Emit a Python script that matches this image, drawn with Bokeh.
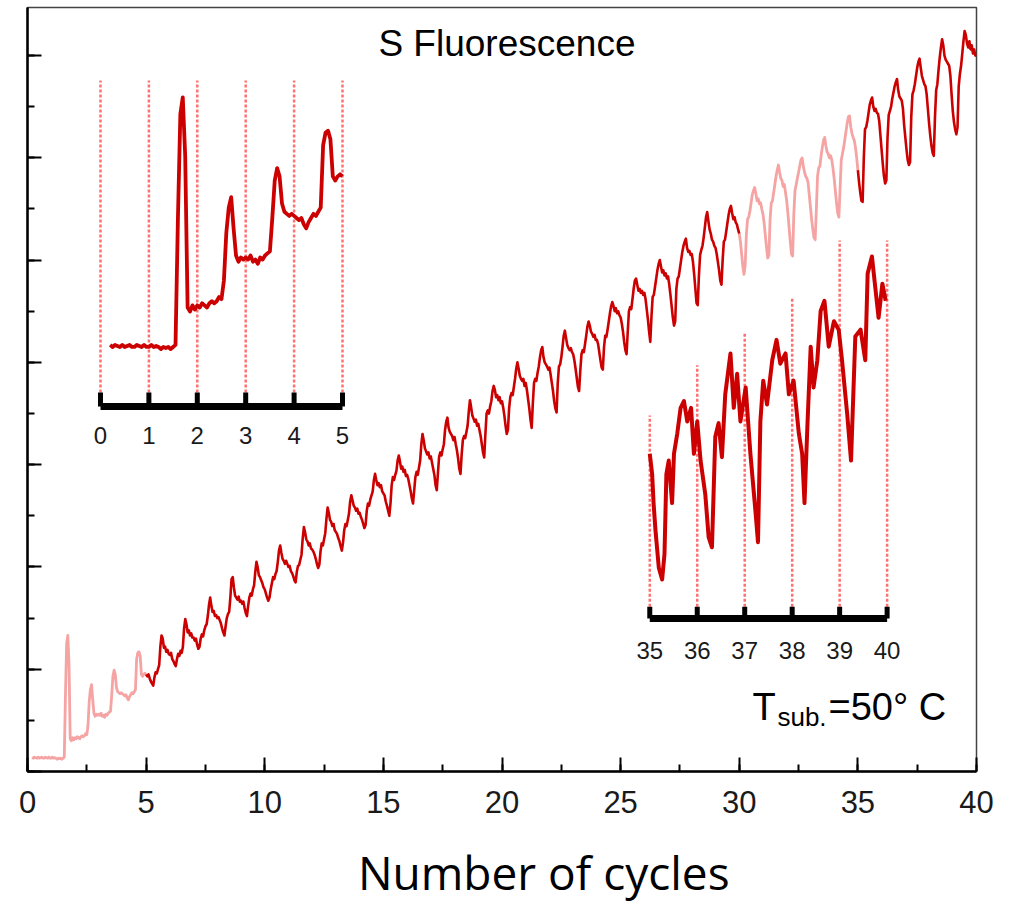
import numpy as np
from bokeh.plotting import figure
from bokeh.layouts import column
from bokeh.models import Range1d, SingleIntervalTicker, Label, CustomJSTickFormatter
from bokeh.embed import file_html
from bokeh.resources import INLINE
from bokeh.core.properties import value

# ---------------- data ----------------
# S fluorescence signal (arb. units, 1 unit = one major y tick), sampled every 0.05 cycle.
# Row k holds cycle k (row 0 starts at 0.20 cycles).
signal_rows = [
    [0.14, 0.13, 0.14, 0.135, 0.13, 0.14, 0.13, 0.135, 0.14, 0.13, 0.13, 0.14, 0.135, 0.13, 0.14, 0.13],
    [0.13, 0.14, 0.13, 0.135, 0.13, 0.12, 0.13, 0.125, 0.13, 0.12, 0.13, 0.14, 0.75, 1.25, 1.33, 1.05, 0.32, 0.30, 0.33, 0.31],
    [0.33, 0.32, 0.34, 0.33, 0.32, 0.34, 0.35, 0.34, 0.35, 0.37, 0.36, 0.45, 0.68, 0.80, 0.85, 0.70, 0.57, 0.54, 0.56, 0.55],
    [0.56, 0.55, 0.57, 0.54, 0.55, 0.53, 0.56, 0.55, 0.57, 0.58, 0.59, 0.75, 0.93, 0.99, 0.95, 0.82, 0.78, 0.77, 0.76, 0.77],
    [0.76, 0.75, 0.74, 0.75, 0.72, 0.70, 0.73, 0.75, 0.77, 0.76, 0.78, 0.80, 1.10, 1.16, 1.17, 1.13, 0.95, 0.93, 0.95, 0.96],
    [0.95, 0.93, 0.95, 0.91, 0.88, 0.86, 0.84, 0.92, 0.97, 0.96, 1.00, 1.04, 1.22, 1.33, 1.30, 1.21, 1.22, 1.17, 1.19, 1.15],
    [1.14, 1.16, 1.10, 1.08, 1.05, 1.03, 1.10, 1.15, 1.13, 1.18, 1.16, 1.22, 1.40, 1.49, 1.44, 1.36, 1.38, 1.33, 1.35, 1.31],
    [1.31, 1.28, 1.30, 1.24, 1.20, 1.22, 1.30, 1.34, 1.32, 1.38, 1.42, 1.44, 1.52, 1.63, 1.70, 1.62, 1.56, 1.57, 1.52, 1.53],
    [1.50, 1.51, 1.48, 1.45, 1.40, 1.36, 1.33, 1.42, 1.50, 1.54, 1.56, 1.70, 1.88, 1.90, 1.80, 1.72, 1.70, 1.68, 1.71, 1.66],
    [1.67, 1.64, 1.66, 1.60, 1.55, 1.52, 1.62, 1.70, 1.74, 1.72, 1.78, 1.82, 1.95, 2.05, 2.00, 1.92, 1.90, 1.87, 1.84, 1.80],
    [1.78, 1.74, 1.70, 1.67, 1.70, 1.78, 1.84, 1.90, 1.88, 1.93, 1.96, 2.05, 2.16, 2.21, 2.14, 2.08, 2.06, 2.03, 2.06, 2.03],
    [2.00, 2.01, 1.96, 1.94, 1.91, 1.87, 1.85, 1.95, 2.01, 2.02, 2.07, 2.12, 2.28, 2.39, 2.34, 2.27, 2.25, 2.21, 2.23, 2.18],
    [2.17, 2.15, 2.12, 2.08, 2.03, 1.99, 2.02, 2.15, 2.23, 2.21, 2.27, 2.33, 2.47, 2.58, 2.53, 2.46, 2.44, 2.40, 2.42, 2.36],
    [2.34, 2.32, 2.28, 2.25, 2.20, 2.16, 2.24, 2.36, 2.42, 2.40, 2.46, 2.52, 2.64, 2.70, 2.65, 2.60, 2.58, 2.55, 2.57, 2.52],
    [2.53, 2.49, 2.46, 2.42, 2.38, 2.41, 2.55, 2.62, 2.60, 2.66, 2.70, 2.74, 2.85, 2.91, 2.85, 2.80, 2.82, 2.78, 2.80, 2.74],
    [2.72, 2.70, 2.64, 2.60, 2.55, 2.50, 2.62, 2.80, 2.88, 2.85, 2.90, 2.94, 3.04, 3.09, 3.03, 2.96, 2.98, 2.93, 2.95, 2.89],
    [2.90, 2.86, 2.80, 2.74, 2.67, 2.62, 2.75, 2.88, 2.93, 2.90, 2.97, 3.04, 3.20, 3.30, 3.24, 3.16, 3.13, 3.10, 3.12, 3.06],
    [3.08, 3.02, 2.96, 2.90, 2.80, 2.75, 2.92, 3.08, 3.12, 3.09, 3.15, 3.20, 3.34, 3.42, 3.46, 3.36, 3.32, 3.30, 3.28, 3.24],
    [3.27, 3.20, 3.14, 3.06, 2.96, 2.91, 3.10, 3.24, 3.28, 3.26, 3.32, 3.38, 3.52, 3.63, 3.56, 3.48, 3.45, 3.42, 3.44, 3.38],
    [3.40, 3.34, 3.28, 3.20, 3.12, 3.07, 3.30, 3.50, 3.53, 3.50, 3.57, 3.62, 3.72, 3.77, 3.73, 3.66, 3.68, 3.63, 3.66, 3.60],
    [3.62, 3.56, 3.48, 3.38, 3.30, 3.34, 3.55, 3.66, 3.70, 3.68, 3.76, 3.84, 3.94, 4.00, 3.94, 3.87, 3.84, 3.82, 3.84, 3.77],
    [3.80, 3.73, 3.64, 3.55, 3.44, 3.36, 3.60, 3.80, 3.84, 3.82, 3.90, 3.96, 4.05, 4.12, 4.15, 4.05, 4.00, 3.98, 3.96, 3.93],
    [3.95, 3.88, 3.80, 3.72, 3.62, 3.55, 3.51, 3.80, 3.96, 3.98, 4.05, 4.15, 4.26, 4.31, 4.24, 4.17, 4.14, 4.12, 4.14, 4.10],
    [4.08, 4.02, 3.94, 3.85, 3.76, 3.72, 3.92, 4.08, 4.12, 4.10, 4.18, 4.26, 4.35, 4.40, 4.36, 4.30, 4.28, 4.25, 4.27, 4.22],
    [4.22, 4.18, 4.10, 4.02, 3.95, 3.93, 4.15, 4.26, 4.25, 4.32, 4.40, 4.48, 4.55, 4.59, 4.55, 4.50, 4.53, 4.48, 4.50, 4.46],
    [4.44, 4.38, 4.30, 4.20, 4.12, 4.08, 4.30, 4.50, 4.54, 4.52, 4.62, 4.72, 4.80, 4.82, 4.76, 4.70, 4.72, 4.68, 4.70, 4.66],
    [4.68, 4.62, 4.52, 4.42, 4.30, 4.20, 4.45, 4.64, 4.66, 4.74, 4.82, 4.90, 4.96, 5.00, 4.94, 4.88, 4.90, 4.85, 4.87, 4.82],
    [4.84, 4.76, 4.66, 4.55, 4.44, 4.36, 4.40, 4.72, 4.82, 4.84, 4.92, 5.00, 5.08, 5.14, 5.18, 5.21, 5.12, 5.08, 5.09, 5.05],
    [5.06, 4.98, 4.86, 4.72, 4.58, 4.56, 4.85, 5.05, 5.10, 5.14, 5.22, 5.32, 5.42, 5.47, 5.38, 5.30, 5.26, 5.20, 5.18, 5.14],
    [5.12, 5.06, 4.98, 4.90, 4.80, 4.76, 5.00, 5.18, 5.20, 5.28, 5.36, 5.44, 5.50, 5.53, 5.46, 5.40, 5.42, 5.37, 5.35, 5.30],
    [5.26, 5.18, 5.06, 4.94, 4.86, 4.95, 5.25, 5.40, 5.42, 5.48, 5.56, 5.64, 5.68, 5.71, 5.65, 5.58, 5.60, 5.55, 5.56, 5.50],
    [5.45, 5.36, 5.24, 5.12, 5.02, 5.05, 5.40, 5.56, 5.58, 5.66, 5.74, 5.82, 5.88, 5.93, 5.86, 5.80, 5.78, 5.72, 5.74, 5.66],
    [5.58, 5.46, 5.32, 5.18, 5.06, 5.04, 5.45, 5.68, 5.74, 5.80, 5.86, 5.92, 5.98, 6.00, 5.92, 5.86, 5.82, 5.80, 5.76, 5.64],
    [5.52, 5.40, 5.30, 5.22, 5.20, 5.50, 5.82, 5.90, 5.92, 6.02, 6.10, 6.17, 6.20, 6.12, 6.06, 6.04, 6.00, 6.02, 5.98, 5.90],
    [5.80, 5.68, 5.56, 5.46, 5.42, 5.70, 5.98, 6.04, 6.10, 6.18, 6.26, 6.34, 6.40, 6.41, 6.30, 6.24, 6.20, 6.17, 6.10, 6.00],
    [5.88, 5.76, 5.66, 5.58, 5.57, 6.00, 6.28, 6.30, 6.36, 6.44, 6.52, 6.56, 6.59, 6.50, 6.46, 6.48, 6.44, 6.43, 6.36, 6.22],
    [6.08, 5.94, 5.82, 5.75, 5.78, 6.20, 6.42, 6.46, 6.50, 6.58, 6.64, 6.70, 6.74, 6.77, 6.66, 6.60, 6.58, 6.56, 6.48, 6.32],
    [6.20, 6.08, 5.98, 5.93, 5.96, 6.40, 6.62, 6.66, 6.72, 6.80, 6.88, 6.94, 6.97, 6.88, 6.80, 6.76, 6.72, 6.70, 6.62, 6.48],
    [6.34, 6.22, 6.12, 6.05, 6.02, 6.40, 6.66, 6.72, 6.86, 6.98, 7.08, 7.16, 7.10, 7.00, 6.96, 6.94, 6.92, 6.90, 6.80, 6.62],
    [6.46, 6.35, 6.28, 6.23, 6.30, 6.70, 6.82, 6.90, 7.02, 7.14, 7.24, 7.20, 7.12, 7.08, 7.14, 7.06, 7.10, 7.02, 7.06, 7.00],
]
signal_end = 7.01          # value at 40 cycles
pale_spans = [(0.0, 5.0), (30.0, 35.0)]
dark_spans = [(5.0, 30.0), (35.0, 40.0)]

# inset 1 (cycles 0-5, same signal)
inset1_ticks = [0, 1, 2, 3, 4, 5]
inset1_labels = ["0", "1", "2", "3", "4", "5"]

# inset 2 (cycles 35-40, raw trace)
inset2_x = [35.00, 35.05, 35.08, 35.12, 35.19, 35.26, 35.31, 35.35, 35.40, 35.47, 35.51, 35.58, 35.65, 35.72,
            35.79, 35.87, 35.93, 36.00, 36.07, 36.17, 36.24, 36.31, 36.38, 36.45, 36.52, 36.59, 36.70, 36.77,
            36.84, 36.91, 37.02, 37.12, 37.23, 37.28, 37.33, 37.39, 37.47, 37.58, 37.67, 37.75, 37.86, 37.93,
            38.03, 38.14, 38.21, 38.26, 38.32, 38.39, 38.45, 38.53, 38.60, 38.68, 38.77, 38.88, 38.98, 39.05,
            39.16, 39.24, 39.33, 39.44, 39.54, 39.59, 39.68, 39.75, 39.82, 39.90, 39.97]
inset2_y = [6.10, 5.98, 5.81, 5.65, 5.43, 5.36, 5.51, 5.98, 6.06, 5.81, 6.10, 6.22, 6.37, 6.41,
            6.29, 6.37, 6.10, 6.29, 6.06, 5.86, 5.61, 5.55, 6.20, 6.28, 6.08, 6.45, 6.69, 6.37,
            6.57, 6.29, 6.49, 6.10, 5.75, 5.58, 6.29, 6.53, 6.39, 6.65, 6.77, 6.63, 6.69, 6.45,
            6.53, 6.22, 6.10, 5.81, 6.26, 6.73, 6.49, 6.65, 6.94, 7.00, 6.73, 6.88, 6.83, 6.65,
            6.33, 6.06, 6.79, 6.83, 6.65, 7.16, 7.26, 7.08, 6.90, 7.10, 7.00]
inset2_ticks = [35, 36, 37, 38, 39, 40]
inset2_labels = ["35", "36", "37", "38", "39", "40"]
inset2_dot_tops = [6.325, 6.62, 6.808, 7.02, 7.355, 7.355]

x_title = "Number of cycles"

# ---------------- build arrays ----------------
xs, ys = [], []
for k, row in enumerate(signal_rows):
    start = 0.20 if k == 0 else float(k)
    for j, v in enumerate(row):
        xs.append(round(start + 0.05 * j, 2))
        ys.append(v)
xs.append(40.0)
ys.append(signal_end)
x = np.array(xs)
y = np.array(ys)


def span(a, b):
    m = (x >= a - 1e-9) & (x <= b + 1e-9)
    return x[m], y[m]


DARK = "#cc0000"
PALE = "#f5a3a3"
DOT = "#ff7070"
FONT = "Liberation Sans"

p = figure(width=1020, height=830, x_range=Range1d(0, 40), y_range=Range1d(0, 7.47),
           output_backend="svg", toolbar_location=None,
           min_border_left=27, min_border_right=44, min_border_top=7, min_border_bottom=59,
           background_fill_color="white", border_fill_color="white")
p.extra_x_ranges = {"lx": Range1d(-1.508, 18.099), "rx": Range1d(21.891, 41.883)}
p.extra_y_ranges = {"ly": Range1d(-1.911, 1.762), "ry": Range1d(4.231, 8.725)}

p.xgrid.visible = False
p.ygrid.visible = False
p.outline_line_color = "#444444"
p.outline_line_width = 1.5

p.xaxis.ticker = SingleIntervalTicker(interval=5, num_minor_ticks=2)
p.yaxis.ticker = SingleIntervalTicker(interval=1, num_minor_ticks=2)
for ax in (p.xaxis, p.yaxis):
    ax.axis_line_width = 2.5
    ax.axis_line_color = "black"
    ax.major_tick_in = 14
    ax.major_tick_out = 0
    ax.minor_tick_in = 7
    ax.minor_tick_out = 0
    ax.major_tick_line_width = 2
    ax.minor_tick_line_width = 2
    ax.major_tick_line_color = "black"
    ax.minor_tick_line_color = "black"
p.xaxis.major_label_text_font = FONT
p.xaxis.major_label_text_font_size = "31px"
p.xaxis.major_label_text_color = "#1a1a1a"
p.xaxis.major_label_standoff = 19
p.yaxis.formatter = CustomJSTickFormatter(code="return '';")
p.yaxis.major_label_standoff = 0

# ---- inset dotted guides (drawn first) ----
p.segment(x0=inset1_ticks, y0=[-0.089] * 6, x1=inset1_ticks, y1=[1.411] * 6,
          x_range_name="lx", y_range_name="ly", line_color=DOT, line_width=2.5, line_dash="3 2")
p.segment(x0=inset2_ticks, y0=[5.20] * 6, x1=inset2_ticks, y1=inset2_dot_tops,
          x_range_name="rx", y_range_name="ry", line_color=DOT, line_width=2.5, line_dash="3 2")

# ---- main trace ----
for a, b in pale_spans:
    sx, sy = span(a, b)
    p.line(sx, sy, line_color=PALE, line_width=2.8, line_join="round")
for a, b in dark_spans:
    sx, sy = span(a, b)
    p.line(sx, sy, line_color=DARK, line_width=2.6, line_join="round")

# ---- inset 1 ----
sx, sy = span(0.0, 5.0)
p.line(sx, sy, x_range_name="lx", y_range_name="ly", line_color=DARK, line_width=3.8, line_join="round")
p.segment(x0=[0], y0=[-0.156], x1=[5], y1=[-0.156], x_range_name="lx", y_range_name="ly",
          line_color="black", line_width=7)
p.segment(x0=inset1_ticks, y0=[-0.156] * 6, x1=inset1_ticks, y1=[-0.089] * 6,
          x_range_name="lx", y_range_name="ly", line_color="black", line_width=5)
p.text(x=inset1_ticks, y=[-0.296] * 6, text=inset1_labels, x_range_name="lx", y_range_name="ly",
       text_align="center", text_baseline="middle", text_font=value(FONT), text_font_size="24px",
       text_color="#1a1a1a")

# ---- inset 2 ----
p.line(inset2_x, inset2_y, x_range_name="rx", y_range_name="ry", line_color=DARK, line_width=4,
       line_join="round")
p.segment(x0=[35], y0=[5.131], x1=[40], y1=[5.131], x_range_name="rx", y_range_name="ry",
          line_color="black", line_width=7)
p.segment(x0=inset2_ticks, y0=[5.131] * 6, x1=inset2_ticks, y1=[5.20] * 6,
          x_range_name="rx", y_range_name="ry", line_color="black", line_width=5)
p.text(x=inset2_ticks, y=[4.943] * 6, text=inset2_labels, x_range_name="rx", y_range_name="ry",
       text_align="center", text_baseline="middle", text_font=value(FONT), text_font_size="24px",
       text_color="#1a1a1a")

# ---- texts ----
p.add_layout(Label(x=14.79, y=7.12, text="S Fluorescence", text_align="left", text_baseline="alphabetic",
                   text_font=FONT, text_font_size="37px", text_color="black"))
p.add_layout(Label(x=30.56, y=0.635, text="T", text_align="left", text_baseline="alphabetic",
                   text_font=FONT, text_font_size="38px", text_color="black"))
p.add_layout(Label(x=31.61, y=0.537, text="sub.", text_align="left", text_baseline="alphabetic",
                   text_font=FONT, text_font_size="26px", text_color="black"))
p.add_layout(Label(x=33.76, y=0.635, text="=50° C", text_align="left", text_baseline="alphabetic",
                   text_font=FONT, text_font_size="38px", text_color="black"))

# ---- axis title strip below the plot (same horizontal scale as the main frame) ----
q = figure(width=1020, height=74, x_range=Range1d(-27 / 23.725, 40 + 44 / 23.725), y_range=Range1d(0, 74),
           output_backend="svg", toolbar_location=None, x_axis_location=None, y_axis_location=None,
           min_border_left=0, min_border_right=0, min_border_top=0, min_border_bottom=0,
           background_fill_color="white", border_fill_color="white", outline_line_color=None)
q.xgrid.visible = False
q.ygrid.visible = False
q.text(x=[22.25], y=[33], text=[x_title], text_align="center", text_baseline="alphabetic",
       text_font=value("Open Sans"), text_font_size="46px", text_color="black")

layout = column(p, q, spacing=0)
open("out.html", "w").write(file_html(layout, INLINE))
